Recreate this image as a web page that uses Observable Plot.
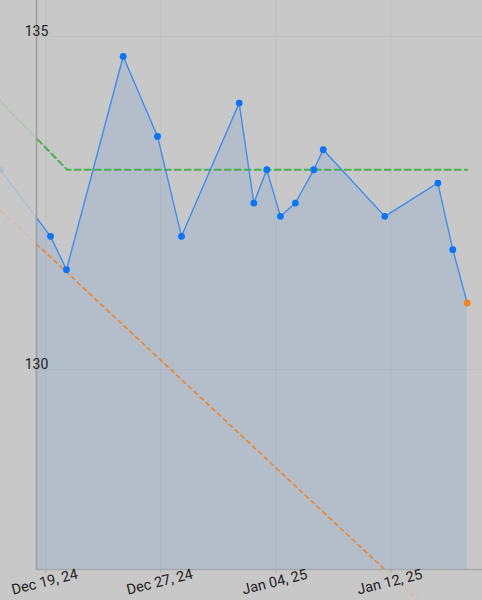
<!DOCTYPE html>
<html>
<head>
<meta charset="utf-8">
<script src="https://cdn.jsdelivr.net/npm/d3@7"></script>
<script src="https://cdn.jsdelivr.net/npm/@observablehq/plot@0.6"></script>
<style>
  html, body { margin: 0; padding: 0; background: #c8c8c8; }
  #chart { width: 482px; height: 600px; overflow: hidden; }
</style>
</head>
<body>
<div id="chart"></div>
<script>
// Measurements (date/time, value)
const dates = [
  "2024-12-15T20:00", "2024-12-19T07:50", "2024-12-20T10:30", "2024-12-24T09:10",
  "2024-12-26T18:30", "2024-12-28T10:30", "2025-01-01T10:50", "2025-01-02T11:15",
  "2025-01-03T08:55", "2025-01-04T07:40", "2025-01-05T08:40", "2025-01-06T15:20",
  "2025-01-07T07:10", "2025-01-11T13:55", "2025-01-15T06:30", "2025-01-16T07:30",
  "2025-01-17T07:30"
];
const values = [
  133.0, 132.0, 131.5, 134.7, 133.5, 132.0, 134.0, 132.5, 133.0,
  132.3, 132.5, 133.0, 133.3, 132.3, 132.8, 131.8, 131.0
];
// Goal line (green dashed)
const goalDates = ["2024-12-15T12:00", "2024-12-20T11:30", "2025-01-17T07:30"];
const goalValues = [134.1, 133.0, 133.0];
// Trend line (orange dashed)
const trendDates = ["2024-12-15T12:00", "2025-01-20T00:00"];
const trendValues = [132.46, 125.3];
// Axes
const xDomain = ["2024-12-18T08:25", "2025-01-18T09:03"];
const yDomain = [127, 135.54];
const xTicks = ["2024-12-19", "2024-12-27", "2025-01-04", "2025-01-12"];
const yTicks = [130, 135];

const parse = s => new Date(s.length > 10 ? s + ":00Z" : s + "T00:00:00Z");
const data = dates.map((d, i) => ({date: parse(d), v: values[i], last: i === dates.length - 1}));
const goal = goalDates.map((d, i) => ({date: parse(d), v: goalValues[i]}));
const trend = trendDates.map((d, i) => ({date: parse(d), v: trendValues[i]}));
const xT = xTicks.map(parse);
const fmt = d3.utcFormat("%b %d, %y");

const BLUE = "#0a74fa";
const LINE = "#3a8cf2";
const ORANGE = "#f5821f";
const GREEN = "#4caf50";

const plot = Plot.plot({
  width: 482,
  height: 600,
  marginLeft: 36,
  marginRight: 0,
  marginTop: 0,
  marginBottom: 31,
  style: {background: "#c8c8c8", fontFamily: "Roboto, sans-serif", fontSize: "14px", color: "#222"},
  x: {type: "utc", domain: xDomain.map(parse), label: null},
  y: {domain: yDomain, axis: null, label: null},
  marks: [
    // faint, unclipped layer
    Plot.line(goal, {x: "date", y: "v", stroke: GREEN, strokeWidth: 2, strokeDasharray: "6,4", strokeOpacity: 0.15}),
    Plot.line(trend, {x: "date", y: "v", stroke: ORANGE, strokeWidth: 1.5, strokeDasharray: "4,4", strokeOpacity: 0.15}),
    Plot.line(data, {x: "date", y: "v", stroke: LINE, strokeWidth: 1.3, strokeOpacity: 0.15}),
    Plot.dot(data, {x: "date", y: "v", r: 3.4, fill: d => d.last ? ORANGE : BLUE, fillOpacity: 0.12}),
    // clipped layer
    Plot.areaY(data, {x: "date", y1: yDomain[0], y2: "v", fill: "#0a6cf0", fillOpacity: 0.1, clip: true}),
    Plot.gridX(xT, {stroke: "#9aa0aa", strokeOpacity: 0.22}),
    Plot.gridY(yTicks, {stroke: "#9aa0aa", strokeOpacity: 0.22}),
    Plot.line(goal, {x: "date", y: "v", stroke: GREEN, strokeWidth: 2, strokeDasharray: "6,4", clip: true}),
    Plot.line(trend, {x: "date", y: "v", stroke: ORANGE, strokeWidth: 1.5, strokeDasharray: "4,4", clip: true}),
    Plot.line(data, {x: "date", y: "v", stroke: LINE, strokeWidth: 1.3, clip: true}),
    Plot.dot(data, {x: "date", y: "v", r: 3.4, fill: d => d.last ? ORANGE : BLUE, clip: true}),
    // axes
    Plot.ruleX([parse(xDomain[0])], {stroke: "#9c9c9c", strokeWidth: 1.5}),
    Plot.ruleY([yDomain[0]], {stroke: "#a8a8a8", strokeWidth: 1.5}),
    Plot.axisX(xT, {tickSize: 4, tickFormat: () => "", stroke: "#a8a8a8", label: null}),
    Plot.text(yTicks, {y: d => d, text: d => String(d), frameAnchor: "left", textAnchor: "middle", dy: -5, fontSize: 14, fill: "#222"}),
    Plot.text(xT, {x: d => d, text: d => fmt(d), frameAnchor: "bottom", dy: 17, rotate: -14, fontSize: 14.5, fill: "#222"})
  ]
});
document.getElementById("chart").appendChild(plot);
</script>
</body>
</html>
